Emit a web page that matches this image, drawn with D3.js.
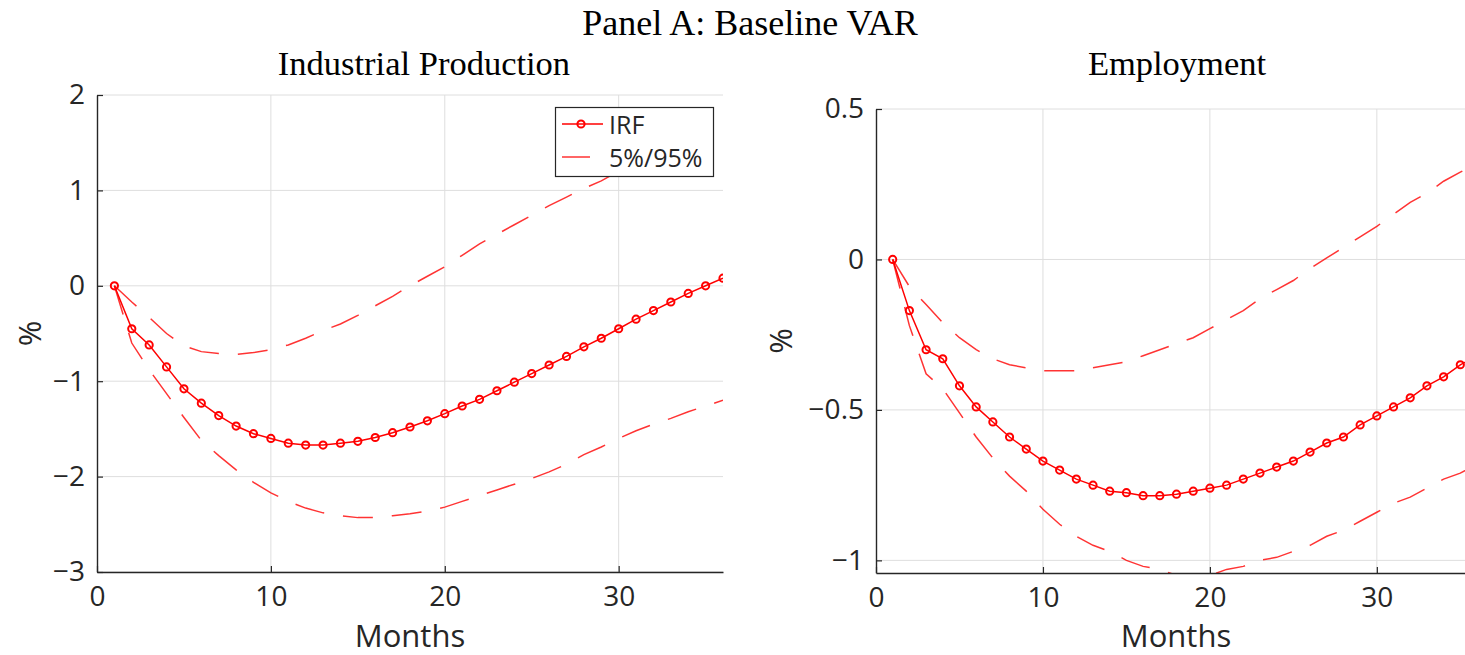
<!DOCTYPE html>
<html>
<head>
<meta charset="utf-8">
<script src="https://cdn.jsdelivr.net/npm/d3@7"></script>
<style>
body { margin: 0; background: #fff; }
svg { display: block; }
.title { font-family: "Liberation Serif", serif; font-size: 34.5px; fill: #000; text-anchor: middle; }
.main { font-size: 36px; }
.tick text { font-family: "Open Sans", sans-serif; font-size: 28px; fill: #262626; }
.label { font-family: "Open Sans", sans-serif; font-size: 31px; fill: #262626; text-anchor: middle; }
.legend text { font-family: "Open Sans", sans-serif; font-size: 25px; fill: #262626; }
</style>
</head>
<body>
<svg width="1465" height="655"></svg>
<script>
// **** Data ****

var months = [1,2,3,4,5,6,7,8,9,10,11,12,13,14,15,16,17,18,19,20,21,22,23,24,25,26,27,28,29,30,31,32,33,34,35,36];

var ipIrf = [0,-0.45,-0.62,-0.85,-1.08,-1.23,-1.36,-1.47,-1.55,-1.6,-1.65,-1.67,-1.67,-1.65,-1.63,-1.59,-1.54,-1.48,-1.415,-1.34,-1.26,-1.19,-1.1,-1.01,-0.92,-0.83,-0.74,-0.64,-0.55,-0.45,-0.35,-0.26,-0.17,-0.08,0.0,0.08];
var ipUpper = [0,-0.17,-0.33,-0.5,-0.63,-0.69,-0.71,-0.72,-0.7,-0.67,-0.62,-0.55,-0.47,-0.4,-0.31,-0.21,-0.11,0.0,0.1,0.2,0.32,0.44,0.54,0.64,0.74,0.84,0.93,1.02,1.1,1.2,1.28,1.37,1.45,1.52,1.59,1.67];
var ipLower = [0,-0.6,-0.88,-1.13,-1.38,-1.62,-1.78,-1.93,-2.06,-2.17,-2.26,-2.33,-2.38,-2.41,-2.43,-2.43,-2.41,-2.39,-2.36,-2.32,-2.26,-2.2,-2.14,-2.08,-2.02,-1.95,-1.87,-1.77,-1.69,-1.6,-1.52,-1.45,-1.39,-1.32,-1.26,-1.2];

var empIrf = [0,-0.17,-0.3,-0.33,-0.42,-0.49,-0.54,-0.59,-0.63,-0.67,-0.7,-0.73,-0.75,-0.77,-0.775,-0.785,-0.785,-0.78,-0.77,-0.76,-0.75,-0.73,-0.71,-0.69,-0.67,-0.64,-0.61,-0.59,-0.55,-0.52,-0.49,-0.46,-0.42,-0.39,-0.35,-0.32];
var empUpper = [0,-0.09,-0.15,-0.21,-0.26,-0.3,-0.33,-0.35,-0.36,-0.37,-0.37,-0.37,-0.36,-0.35,-0.34,-0.32,-0.3,-0.28,-0.26,-0.23,-0.2,-0.17,-0.13,-0.1,-0.07,-0.03,0.005,0.04,0.075,0.11,0.15,0.19,0.22,0.26,0.29,0.32];
var empLower = [0,-0.22,-0.38,-0.43,-0.51,-0.59,-0.66,-0.72,-0.77,-0.83,-0.88,-0.92,-0.95,-0.97,-1.0,-1.02,-1.03,-1.05,-1.05,-1.05,-1.03,-1.02,-1.0,-0.99,-0.97,-0.95,-0.92,-0.9,-0.87,-0.84,-0.81,-0.79,-0.76,-0.73,-0.71,-0.68];

var xTicks = [0,10,20,30];
var ipTicks = [-3,-2,-1,0,1,2];
var empTicks = [-1,-0.5,0,0.5];

var axisColor = '#262626';
var red = '#ff0000';

var svg = d3.select('svg');

svg.append('text')
    .text('Panel A: Baseline VAR')
    .attr('class', 'title main')
    .attr('x', 750).attr('y', 35);

function fmt(d) {
    return String(d).replace('-', '\u2212');
}

// **** One panel: grid, bands, IRF, axes ****

function drawPanel(id, box, yDomain, yTicks, irf, lower, upper, title) {
    var xScale = d3.scaleLinear().domain([0,36]).range([box.left, box.right]);
    var yScale = d3.scaleLinear().domain(yDomain).range([box.bottom, box.top]);

    var g = svg.append('g');

    svg.append('clipPath').attr('id', id)
        .append('rect')
        .attr('x', box.left).attr('y', box.top)
        .attr('width', box.right - box.left).attr('height', box.bottom - box.top);

    // grid
    g.selectAll('.vgrid').data(xTicks.filter(function(d){ return d > 0; }))
        .enter().append('line')
        .attr('x1', xScale).attr('x2', xScale)
        .attr('y1', box.top).attr('y2', box.bottom)
        .style('stroke', '#dedede').style('stroke-width', 1);
    g.selectAll('.hgrid').data(yTicks)
        .enter().append('line')
        .attr('x1', box.left).attr('x2', box.right)
        .attr('y1', yScale).attr('y2', yScale)
        .style('stroke', '#dedede').style('stroke-width', 1);

    var line = function(vals) {
        return d3.line()
            .x(function(d, i){ return xScale(months[i]); })
            .y(function(d){ return yScale(d); })(vals);
    };

    var plot = g.append('g').attr('clip-path', 'url(#' + id + ')');

    [lower, upper].forEach(function(band){
        plot.append('path')
            .attr('d', line(band))
            .style('fill', 'none')
            .style('stroke', red).style('stroke-opacity', 0.8)
            .style('stroke-width', 1.5)
            .style('stroke-dasharray', '30,19');
    });

    plot.append('path')
        .attr('d', line(irf))
        .style('fill', 'none')
        .style('stroke', red)
        .style('stroke-width', 1.5);

    plot.selectAll('circle').data(irf).enter().append('circle')
        .attr('cx', function(d, i){ return xScale(months[i]); })
        .attr('cy', function(d){ return yScale(d); })
        .attr('r', 3.6)
        .style('fill', 'none')
        .style('stroke', red)
        .style('stroke-width', 2);

    // axes
    var xAxis = g.append('g')
        .attr('transform', 'translate(0,' + box.bottom + ')')
        .call(d3.axisBottom(xScale).tickValues(xTicks).tickFormat(fmt)
            .tickSizeInner(-6).tickSizeOuter(0).tickPadding(10));
    var yAxis = g.append('g')
        .attr('transform', 'translate(' + box.left + ',0)')
        .call(d3.axisLeft(yScale).tickValues(yTicks).tickFormat(fmt)
            .tickSizeInner(-6).tickSizeOuter(0).tickPadding(12));

    [xAxis, yAxis].forEach(function(a){
        a.select('.domain').style('stroke', axisColor).style('stroke-width', 1.4);
        a.selectAll('.tick line').style('stroke', axisColor).style('stroke-width', 1.2);
        a.attr('font-family', null).attr('font-size', null);
    });
    xAxis.selectAll('.tick text').attr('dy', '0.85em');

    svg.append('text')
        .text(title)
        .attr('class', 'title')
        .attr('x', box.titleX).attr('y', 75);

    svg.append('text')
        .text('Months')
        .attr('class', 'label')
        .attr('x', box.labelX)
        .attr('y', 647);

    svg.append('text')
        .text('%')
        .attr('class', 'label')
        .attr('transform', 'translate(' + box.pctX + ',' + ((box.top + box.bottom) / 2) + ') rotate(-90)');
}

drawPanel('clipIP', {left: 97, right: 723, top: 95, bottom: 572, titleX: 424, labelX: 410, pctX: 41},
    [-3, 2], ipTicks, ipIrf, ipLower, ipUpper, 'Industrial Production');

drawPanel('clipEmp', {left: 876, right: 1477, top: 109, bottom: 573, titleX: 1177, labelX: 1176, pctX: 792},
    [-1.042, 0.5], empTicks, empIrf, empLower, empUpper, 'Employment');

// **** Legend ****

var legend = svg.append('g').attr('class', 'legend');

legend.append('rect')
    .attr('x', 555.5).attr('y', 107.5)
    .attr('width', 158).attr('height', 69)
    .style('fill', '#fff')
    .style('stroke', axisColor).style('stroke-width', 1.2);

legend.append('line')
    .attr('x1', 562).attr('x2', 603).attr('y1', 124).attr('y2', 124)
    .style('stroke', red).style('stroke-width', 1.5);
legend.append('circle')
    .attr('cx', 581).attr('cy', 124).attr('r', 3.6)
    .style('fill', 'none').style('stroke', red).style('stroke-width', 2);
legend.append('text').text('IRF').attr('x', 609).attr('y', 134);

legend.append('line')
    .attr('x1', 562).attr('x2', 590).attr('y1', 157).attr('y2', 157)
    .style('stroke', red).style('stroke-opacity', 0.8).style('stroke-width', 1.5);
legend.append('text').text('5%/95%').attr('x', 609).attr('y', 167);
</script>
</body>
</html>
